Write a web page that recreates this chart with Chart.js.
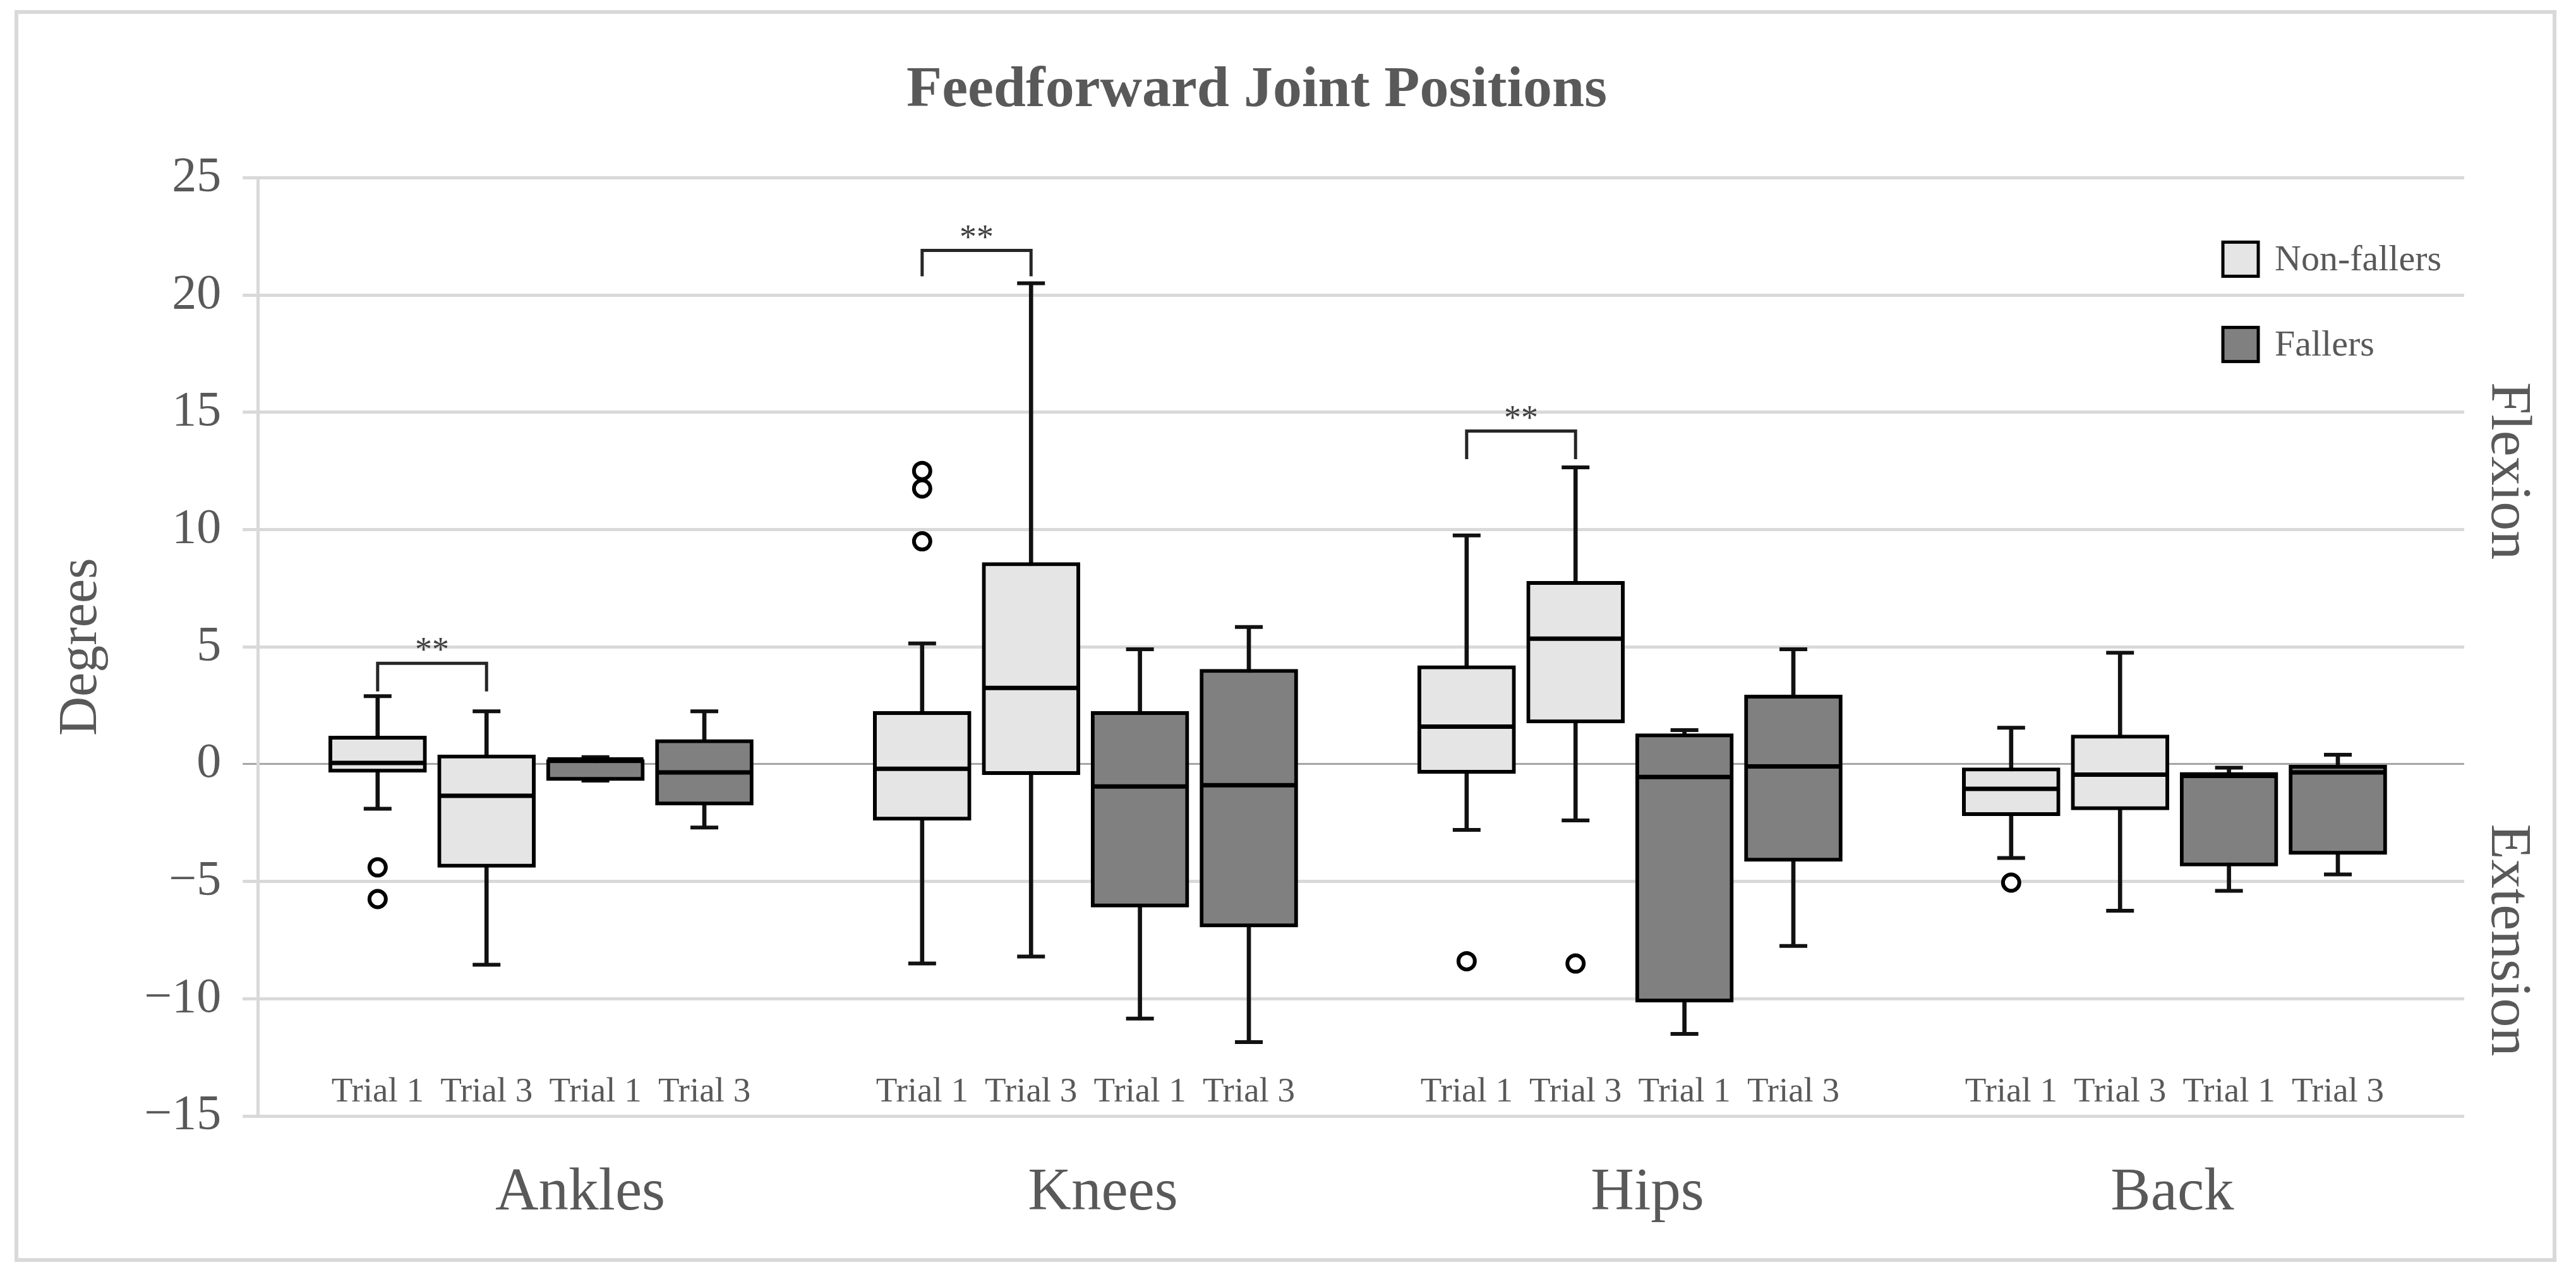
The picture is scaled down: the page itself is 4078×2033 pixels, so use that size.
<!DOCTYPE html>
<html>
<head>
<meta charset="utf-8">
<title>Feedforward Joint Positions</title>
<script src="https://cdn.jsdelivr.net/npm/chart.js@4.4.1/dist/chart.umd.min.js"></script>
<style>
  html, body { margin: 0; padding: 0; background: #fff; }
  canvas { display: block; }
</style>
</head>
<body>
<canvas id="chart" width="4078" height="2033"></canvas>
<script>
const joints = ['Ankles', 'Knees', 'Hips', 'Back'];
const trialLabels = ['Trial 1', 'Trial 3', 'Trial 1', 'Trial 3'];
const groupNames = ['Non-fallers', 'Fallers'];
const yTicks = [-15, -10, -5, 0, 5, 10, 15, 20, 25];

// one entry per box, per joint: Non-fallers T1, T3, Fallers T1, T3
const whiskerLow  = [-1.9, -8.55, -0.7, -2.7,   -8.5, -8.2, -10.85, -11.85,  -2.8, -2.4, -11.5, -7.75,  -4.0, -6.25, -5.4, -4.7];
const q1          = [-0.35, -4.4, -0.7, -1.75,  -2.4, -0.45, -6.1, -6.95,    -0.4, 1.75, -10.15, -4.15, -2.2, -1.95, -4.35, -3.85];
const median      = [0.05, -1.35, 0.2, -0.35,   -0.2, 3.25, -0.95, -0.9,     1.6, 5.35, -0.55, -0.1,    -1.05, -0.45, -0.5, -0.35];
const q3          = [1.2, 0.4, 0.2, 1.05,       2.25, 8.6, 2.25, 4.05,       4.2, 7.8, 1.3, 2.95,       -0.15, 1.25, -0.35, 0.0];
const whiskerHigh = [2.9, 2.25, 0.3, 2.25,      5.15, 20.5, 4.9, 5.85,       9.75, 12.65, 1.45, 4.9,    1.55, 4.75, -0.15, 0.4];

// outliers: box index + value
const outlierBox   = [0, 0, 4, 4, 4, 8, 9, 12];
const outlierValue = [-4.4, -5.75, 12.5, 11.75, 9.5, -8.4, -8.5, -5.05];

// significance brackets (box indexes, bracket height, leg end)
const sigLeft  = [0, 4, 8];
const sigRight = [1, 5, 9];
const sigTop   = [4.3, 21.9, 14.2];
const sigLeg   = [3.1, 20.8, 13.0];
const sigText  = ['**', '**', '**'];

const FONT = "'Liberation Serif', 'DejaVu Serif', serif";
const TEXT = '#595959';
const fills = ['#e6e5e6', '#808080'];

// x slot of a box: 4 boxes per joint, one empty slot between joints
const slot = i => Math.floor(i / 4) * 5 + (i % 4) + 1;
const boxIdx = [...Array(whiskerLow.length).keys()];
// joint names are not quite centred under their boxes in the original
const jointLabelShift = [0.2, 0, 0, -0.18];

function boxData(g) {
    return boxIdx.filter(i => Math.floor((i % 4) / 2) === g)
        .map(i => ({x: slot(i), y: [q1[i], q3[i]]}));
}

const decor = {
    id: 'decor',
    beforeDraw(chart) {
        const ctx = chart.ctx;
        ctx.save();
        ctx.fillStyle = '#fff';
        ctx.fillRect(0, 0, chart.width, chart.height);
        ctx.strokeStyle = '#d9d9d9';
        ctx.lineWidth = 6;
        ctx.strokeRect(26, 19, 4018, 1976);
        ctx.restore();
    },
    afterDatasetsDraw(chart) {
        const {ctx, scales: {x, y}} = chart;
        ctx.save();
        ctx.strokeStyle = '#262626';
        ctx.lineWidth = 5;
        ctx.fillStyle = '#404040';
        ctx.font = `54px ${FONT}`;
        ctx.textAlign = 'center';
        ctx.textBaseline = 'middle';
        sigLeft.forEach((l, k) => {
            const x1 = x.getPixelForValue(slot(l));
            const x2 = x.getPixelForValue(slot(sigRight[k]));
            const yt = y.getPixelForValue(sigTop[k]);
            const yl = y.getPixelForValue(sigLeg[k]);
            ctx.beginPath();
            ctx.moveTo(x1, yl);
            ctx.lineTo(x1, yt);
            ctx.lineTo(x2, yt);
            ctx.lineTo(x2, yl);
            ctx.stroke();
            ctx.fillText(sigText[k], (x1 + x2) / 2, yt - 18);
        });
        ctx.restore();
    },
    afterDraw(chart) {
        const {ctx, chartArea: area, scales: {y}} = chart;
        ctx.save();
        // legend inside the plot, top right
        ctx.font = `58px ${FONT}`;
        ctx.textBaseline = 'middle';
        ctx.textAlign = 'left';
        groupNames.forEach((name, g) => {
            const bx = area.right - 382, by = area.top + 102 + g * 135;
            ctx.fillStyle = fills[g];
            ctx.fillRect(bx, by, 56, 54);
            ctx.strokeStyle = '#000';
            ctx.lineWidth = 5;
            ctx.strokeRect(bx, by, 56, 54);
            ctx.fillStyle = TEXT;
            ctx.fillText(name, bx + 82, by + 29);
        });
        // Flexion / Extension on the right
        ctx.font = `92px ${FONT}`;
        ctx.textAlign = 'center';
        [['Flexion', 12.5], ['Extension', -7.5]].forEach(([t, v]) => {
            ctx.save();
            ctx.translate(area.right + 68, y.getPixelForValue(v));
            ctx.rotate(Math.PI / 2);
            ctx.fillText(t, 0, 0);
            ctx.restore();
        });
        ctx.restore();
    }
};

const chart = new Chart(document.getElementById('chart'), {
    type: 'bar',
    data: {
        datasets: [
            {
                type: 'scatter',
                label: 'outliers',
                data: outlierBox.map((b, k) => ({x: slot(b), y: outlierValue[k]})),
                pointStyle: 'circle',
                radius: 13,
                borderWidth: 6,
                borderColor: '#000',
                backgroundColor: '#fff',
                order: 0
            },
            {
                type: 'scatter',
                label: 'median',
                data: boxIdx.map(i => ({x: slot(i), y: median[i]})),
                pointStyle: 'line',
                radius: 76,
                borderWidth: 7,
                borderColor: '#000',
                order: 1
            },
            {
                label: groupNames[0],
                data: boxData(0),
                backgroundColor: fills[0],
                borderColor: '#000',
                borderWidth: 6,
                borderSkipped: false,
                barThickness: 155,
                grouped: false,
                order: 2
            },
            {
                label: groupNames[1],
                data: boxData(1),
                backgroundColor: fills[1],
                borderColor: '#000',
                borderWidth: 6,
                borderSkipped: false,
                barThickness: 155,
                grouped: false,
                order: 2
            },
            {
                type: 'scatter',
                label: 'caps',
                data: boxIdx.flatMap(i => [{x: slot(i), y: whiskerLow[i]}, {x: slot(i), y: whiskerHigh[i]}]),
                pointStyle: 'line',
                radius: 22,
                borderWidth: 6,
                borderColor: '#111',
                order: 3
            },
            {
                label: 'whiskers',
                data: boxIdx.map(i => ({x: slot(i), y: [whiskerLow[i], whiskerHigh[i]]})),
                backgroundColor: '#111',
                borderWidth: 0,
                barThickness: 6,
                grouped: false,
                order: 4
            }
        ]
    },
    options: {
        responsive: false,
        devicePixelRatio: 1,
        animation: false,
        events: [],
        layout: {padding: {left: 78, right: 177, top: 89, bottom: 28}},
        plugins: {
            legend: {display: false},
            tooltip: {enabled: false},
            title: {
                display: true,
                text: 'Feedforward Joint Positions',
                color: TEXT,
                font: {family: FONT, size: 92, weight: 'bold'},
                padding: {top: 0, bottom: 82}
            }
        },
        scales: {
            x: {
                type: 'linear',
                position: 'bottom',
                weight: 0,
                min: -0.1,
                max: 20.16,
                offset: false,
                grid: {display: false, drawTicks: false},
                border: {display: false},
                afterBuildTicks: axis => { axis.ticks = boxIdx.map(i => ({value: slot(i)})); },
                ticks: {
                    autoSkip: false,
                    maxRotation: 0,
                    mirror: true,   // trial labels sit just inside the plot
                    padding: 4,
                    color: TEXT,
                    font: {family: FONT, size: 55},
                    callback: (v, i) => trialLabels[i % 4]
                }
            },
            xg: {
                type: 'linear',
                position: 'bottom',
                weight: 1,
                min: -0.1,
                max: 20.16,
                offset: false,
                grid: {display: false, drawTicks: false},
                border: {display: false},
                afterBuildTicks: axis => {
                    axis.ticks = joints.map((j, g) => ({value: g * 5 + 2.66 + jointLabelShift[g]}));
                },
                ticks: {
                    autoSkip: false,
                    maxRotation: 0,
                    padding: 58,
                    color: TEXT,
                    font: {family: FONT, size: 95},
                    callback: (v, i) => joints[i]
                }
            },
            y: {
                min: yTicks[0],
                max: yTicks[yTicks.length - 1],
                afterBuildTicks: axis => { axis.ticks = yTicks.map(v => ({value: v})); },
                grid: {
                    color: c => c.tick && c.tick.value === 0 ? '#a6a6a6' : '#d9d9d9',
                    lineWidth: c => c.tick && c.tick.value === 0 ? 3 : 5,
                    tickLength: 24
                },
                border: {display: true, color: '#d9d9d9', width: 5},
                ticks: {
                    padding: 34,
                    color: TEXT,
                    font: {family: FONT, size: 78},
                    callback: v => v < 0 ? '\u2212' + Math.abs(v) : String(v)
                },
                title: {
                    display: true,
                    text: 'Degrees',
                    color: TEXT,
                    font: {family: FONT, size: 86},
                    padding: {top: 0, bottom: 13}
                }
            }
        }
    },
    plugins: [decor]
});
</script>
</body>
</html>
